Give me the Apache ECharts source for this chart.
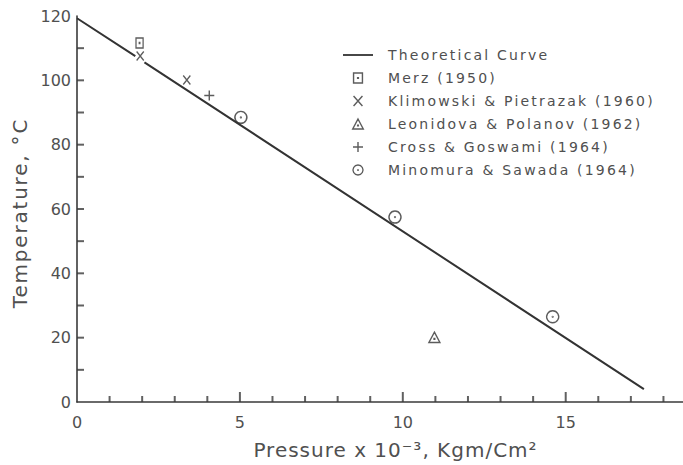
<!DOCTYPE html>
<html>
<head>
<meta charset="utf-8">
<script src="https://cdn.jsdelivr.net/npm/echarts@6/dist/echarts.min.js"></script>
<style>
html,body{margin:0;padding:0;background:#fff;}
#chart{width:683px;height:465px;}
</style>
</head>
<body>
<div id="chart"></div>
<script>
// Data
var theoreticalCurve = [[0, 119.3], [1.79, 107.5], [1.93, '-'], [2.07, 105.6], [17.4, 4.0]];
var merz1950 = [[1.92, 111.6]];
var klimowski1960 = [[1.94, 107.6], [3.37, 100.1]];
var leonidova1962 = [[10.97, 20.1]];
var cross1964 = [[4.06, 95.3]];
var minomura1964 = [[5.03, 88.5], [9.76, 57.5], [14.6, 26.5]];

var seriesNames = ['Theoretical Curve', 'Merz (1950)', 'Klimowski & Pietrazak (1960)',
  'Leonidova & Polanov (1962)', 'Cross & Goswami (1964)', 'Minomura & Sawada (1964)'];
var xLabelValues = [0, 5, 10, 15];
var xMinorTickValues = [1, 2, 3, 4, 6, 7, 8, 9, 11, 12, 13, 14, 16, 17, 18];
var xMajorTickValues = [5, 10, 15];
var yLabelValues = [0, 20, 40, 60, 80, 100, 120];
var yTickValues = [10, 20, 30, 40, 50, 60, 70, 80, 90, 100, 110];

var INK = '#333';
var AX = '#3a3a3a';
var TXT = '#505050';
var FONT = 'DejaVu Sans';

var symSquareDot = 'path://M2,1L18,1L18,19L2,19Z M9.3,9.3L10.7,9.3L10.7,10.7L9.3,10.7Z';
var symX = 'path://M2,1L18,19M18,1L2,19';
var symTriDot = 'path://M10,1L19,18L1,18Z M9.4,11.4L10.6,11.4L10.6,12.6L9.4,12.6Z';
var symPlus = 'path://M10,1L10,19M1,10L19,10';
var symCircleDot = 'path://M10,1A9,9 0 1,1 9.99,1Z M10,9.4A0.6,0.6 0 1,1 9.99,9.4Z';
var symLegendLine = 'path://M0,0L30,0L30,1.8L0,1.8Z';

function scat(name, data, symbol, size) {
  return {
    name: name, type: 'scatter', data: data, symbol: symbol, symbolSize: size,
    symbolKeepAspect: true,
    itemStyle: { color: 'transparent', borderColor: INK, borderWidth: 1.4 },
    emphasis: { disabled: true }
  };
}

// axis tick marks drawn inside the plot, positioned by the axes' own scales
function ticks(data, size, offset) {
  return {
    type: 'scatter', data: data, symbol: 'rect', symbolSize: size, symbolOffset: offset,
    itemStyle: { color: AX }
  };
}

var chart = echarts.init(document.getElementById('chart'), null, { renderer: 'svg' });
var legendData = seriesNames.map(function (n, i) {
  return i === 0 ? { name: n, icon: symLegendLine, itemStyle: { color: INK, borderWidth: 0 } } : n;
});
var option = {
  animation: false,
  grid: { left: 77, right: 0, top: 16, bottom: 58 },
  legend: {
    orient: 'vertical', left: 343, top: 47, padding: 0,
    itemWidth: 30, itemHeight: 10, itemGap: 7,
    data: legendData,
    textStyle: { fontFamily: FONT, fontSize: 14, color: TXT, lineHeight: 16, padding: [0, 0, 0, 10] },
    itemStyle: { borderWidth: 1.4 },
    selectedMode: false
  },
  xAxis: {
    type: 'value', min: 0, max: 18.6, interval: 5,
    axisLine: { show: true, lineStyle: { color: AX, width: 1.6 } },
    axisTick: { show: false },
    axisLabel: {
      show: true, margin: 12, showMaxLabel: false, fontFamily: FONT, fontSize: 16, color: TXT,
      formatter: function (v) { return xLabelValues.indexOf(v) >= 0 ? String(v) : ''; }
    },
    splitLine: { show: false },
    name: 'Pressure x 10\u207B\u00B3, Kgm/Cm\u00B2',
    nameLocation: 'middle', nameGap: 38,
    nameTextStyle: { fontFamily: FONT, fontSize: 20, color: TXT, padding: [0, 0, 0, 31] }
  },
  yAxis: {
    type: 'value', min: 0, max: 120, interval: 20,
    axisLine: { show: true, lineStyle: { color: AX, width: 1.6 } },
    axisTick: { show: false },
    axisLabel: {
      margin: 6, fontFamily: FONT, fontSize: 16, color: TXT,
      formatter: function (v) { return yLabelValues.indexOf(v) >= 0 ? String(v) : ''; }
    },
    splitLine: { show: false },
    name: 'Temperature, \u00B0C',
    nameLocation: 'middle', nameGap: 47, nameRotate: 90,
    nameTextStyle: { fontFamily: FONT, fontSize: 20, color: TXT, padding: [0, 8, 0, 0] }
  },
  series: [
    {
      name: seriesNames[0], type: 'line', data: theoreticalCurve, symbol: 'none',
      connectNulls: false,
      lineStyle: { color: INK, width: 2 }, itemStyle: { color: INK },
      emphasis: { disabled: true }
    },
    scat(seriesNames[1], merz1950, symSquareDot, [8, 10]),
    scat(seriesNames[2], klimowski1960, symX, [8, 9]),
    scat(seriesNames[3], leonidova1962, symTriDot, [11, 11]),
    scat(seriesNames[4], cross1964, symPlus, [10, 10]),
    scat(seriesNames[5], minomura1964, symCircleDot, [12, 12]),
    ticks(xMinorTickValues.map(function (v) { return [v, 0]; }), [2, 6], [0, -3]),
    ticks(xMajorTickValues.map(function (v) { return [v, 0]; }), [2, 10], [0, -5]),
    ticks(yTickValues.map(function (v) { return [0, v]; }), [7, 2], [3.5, 0])
  ]
};
chart.setOption(option);

function spaceText() {
  var texts = document.querySelectorAll('#chart text');
  texts.forEach(function (t) {
    var s = t.textContent || '';
    if (s.indexOf('Temperature') >= 0) t.style.letterSpacing = '1.8px';
    else if (s.indexOf('Pressure') >= 0) t.style.letterSpacing = '1px';
    else if (seriesNames.indexOf(s) >= 0) t.style.letterSpacing = '2.2px';
  });
}
spaceText();
chart.on('finished', spaceText);
setTimeout(spaceText, 0);
</script>
</body>
</html>
